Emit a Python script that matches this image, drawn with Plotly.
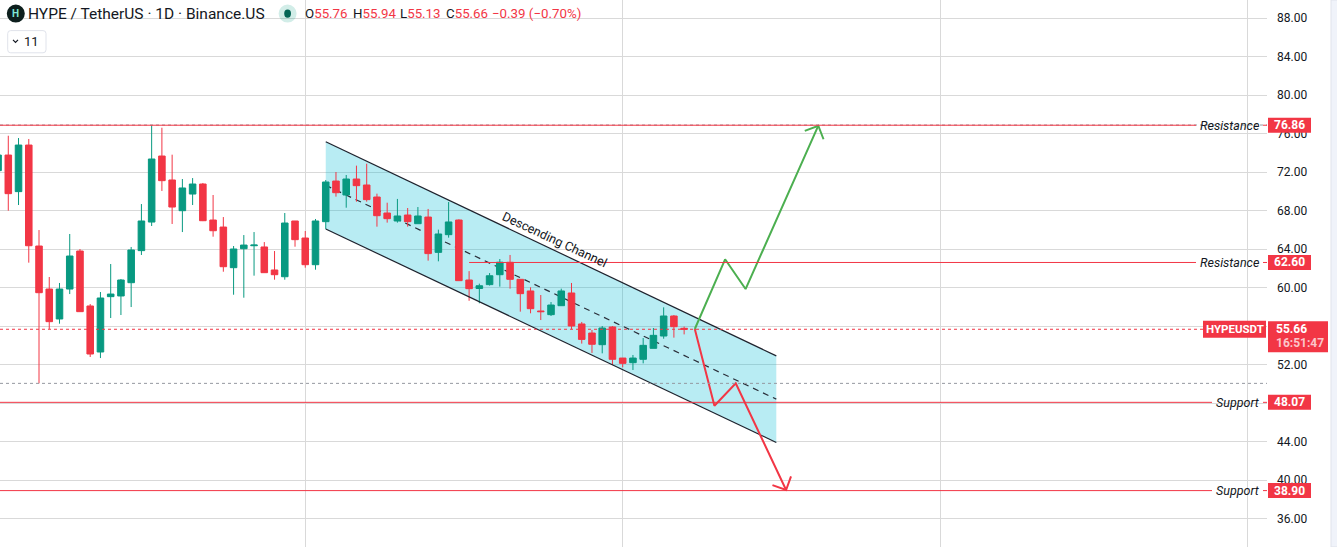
import math
import pandas as pd
import plotly.graph_objects as go

# ---------------- data ----------------
first_date = "2025-06-01"
opens = [72.14, 73.76, 69.96, 74.80, 64.31, 59.84, 56.73, 59.84, 63.79, 58.08,
         53.30, 59.05, 59.12, 60.50, 63.83, 66.80, 73.66, 71.17, 67.98, 69.71,
         70.75, 67.01, 66.28, 62.06, 64.03, 64.34, 64.21, 61.82, 61.12, 66.91,
         65.14, 62.37, 66.84, 71.06, 69.61, 71.27, 70.65, 69.40, 67.74, 66.91,
         67.53, 66.63, 67.32, 63.65, 65.49, 67.01, 60.78, 59.90, 60.30, 61.33,
         62.62, 60.85, 59.64, 57.56, 57.18, 58.11, 59.43, 56.21, 55.27, 54.06,
         55.90, 52.67, 52.19, 52.54, 53.68, 54.96, 57.04, 55.76]
highs = [74.30, 75.77, 75.53, 75.43, 65.97, 61.09, 60.47, 65.56, 64.00, 58.28,
         59.53, 62.44, 60.88, 64.21, 68.67, 76.88, 76.60, 73.80, 71.27, 71.37,
         70.86, 69.61, 67.32, 64.31, 65.45, 65.76, 64.72, 63.79, 67.74, 66.91,
         65.87, 67.12, 71.17, 72.00, 71.69, 72.66, 72.86, 69.75, 68.81, 69.20,
         68.26, 68.36, 68.16, 66.01, 68.88, 67.08, 61.70, 60.40, 61.50, 62.96,
         63.38, 60.86, 60.02, 59.22, 58.49, 59.88, 60.47, 56.42, 55.59, 56.00,
         56.00, 52.68, 52.99, 54.75, 55.79, 57.94, 57.14, 55.94]
lows = [71.60, 67.98, 68.57, 62.58, 50.04, 55.69, 56.24, 59.32, 57.49, 52.78,
        52.67, 56.83, 57.14, 57.97, 63.38, 66.39, 70.03, 66.60, 65.76, 68.57,
        66.90, 65.28, 61.64, 59.25, 58.94, 61.23, 61.54, 60.81, 60.81, 64.24,
        62.06, 61.85, 66.08, 69.44, 68.29, 68.92, 68.92, 66.32, 66.74, 66.74,
        66.32, 66.63, 62.79, 62.72, 65.18, 60.71, 58.62, 58.36, 60.20, 60.09,
        59.88, 57.49, 57.32, 56.62, 57.04, 58.11, 55.69, 54.17, 53.20, 53.16,
        51.95, 51.71, 51.43, 52.12, 53.68, 54.68, 54.79, 55.13]
closes = [73.76, 69.75, 74.80, 64.34, 59.46, 56.45, 59.84, 63.27, 57.49, 53.09,
          58.91, 59.32, 60.78, 63.90, 66.91, 73.35, 71.10, 68.36, 70.34, 70.75,
          66.94, 65.90, 62.16, 64.00, 64.41, 64.41, 61.54, 61.33, 66.70, 64.97,
          62.37, 66.91, 70.96, 69.85, 71.27, 70.58, 69.13, 67.46, 67.15, 67.43,
          66.84, 67.43, 63.52, 65.56, 66.81, 60.71, 59.88, 60.18, 61.22, 62.63,
          60.85, 59.36, 57.80, 57.49, 58.18, 59.64, 56.00, 54.61, 54.10, 55.79,
          52.54, 52.12, 52.67, 53.99, 55.03, 57.04, 55.93, 55.66]

# key horizontal levels
level_prices = [76.86, 62.60, 48.07, 38.90]
level_names = ["Resistance", "Resistance", "Support", "Support"]
level_starts = [None, "2025-07-17", None, None]

# descending channel drawing
channel_x = ["2025-07-03", "2025-08-16"]
channel_upper = [75.15, 52.90]
channel_lower = [66.08, 43.90]
channel_label = "Descending Channel"
channel_label_pos = ("2025-07-25 09:00", 65.00)

# projected scenario paths
bull_x = ["2025-08-08 01:00", "2025-08-11 00:00", "2025-08-13 00:00", "2025-08-20 02:30"]
bull_y = [55.69, 62.93, 59.84, 76.81]
bear_x = ["2025-08-08 01:00", "2025-08-09 23:00", "2025-08-12 01:00", "2025-08-16 23:00"]
bear_y = [55.69, 47.72, 50.05, 38.96]

# axis ticks (48.00 and 56.00 are fully covered by the price labels in the reference)
y_ticks = [36, 40, 44, 48, 52, 56, 60, 64, 68, 72, 76, 80, 84, 88]
y_tick_labels = ["36.00", "40.00", "44.00", "", "52.00", "", "60.00",
                 "64.00", "68.00", "72.00", "76.00", "80.00", "84.00", "88.00"]
month_ticks = ["2025-07-01", "2025-08-01", "2025-09-01", "2025-10-01"]

# header
title_text = "HYPE / TetherUS · 1D · Binance.US"
ohlc_labels = ["O", "H", "L", "C"]
ohlc_values = ["55.76", "55.94", "55.13", "55.66"]
change_text = "−0.39 (−0.70%)"
symbol = "HYPEUSDT"
last_price = 55.66
countdown = "16:51:47"
indicator_count = "11"

# ---------------- style / layout constants ----------------
W, H = 1337, 547
PLOT_W = 1267
Y_MIN, Y_MAX = 33.04, 89.87
X_LEFT_DAYS, X_RIGHT_DAYS = 0.19, 123.92
UP = "#089981"
DOWN = "#F23645"
GRID = "#d9d9d9"
TEXT = "#131722"
FONT = "Roboto, Liberation Sans, sans-serif"

dates = pd.date_range(first_date, periods=len(opens), freq="D")
x_start = dates[0] + pd.Timedelta(days=X_LEFT_DAYS)
x_end = dates[0] + pd.Timedelta(days=X_RIGHT_DAYS)
px_per_day = PLOT_W / (X_RIGHT_DAYS - X_LEFT_DAYS)
px_per_unit = H / (Y_MAX - Y_MIN)


def px(xpix):
    return xpix / PLOT_W


def py(ypix):
    return 1 - ypix / H


def pix_to_date(xpix):
    return x_start + pd.Timedelta(days=xpix / px_per_day)


def arrow_wings(xs, ys, length=14.5, angle=45):
    tip_t, prev_t = pd.Timestamp(xs[-1]), pd.Timestamp(xs[-2])
    dx = (prev_t - tip_t) / pd.Timedelta(days=1) * px_per_day
    dy = -(ys[-2] - ys[-1]) * px_per_unit
    n = math.hypot(dx, dy)
    ux, uy = dx / n, dy / n
    wx_list, wy_list = [], []
    for sgn in (1, -1):
        a = math.radians(angle * sgn)
        wx = ux * math.cos(a) - uy * math.sin(a)
        wy = ux * math.sin(a) + uy * math.cos(a)
        wx_list.append(tip_t + pd.Timedelta(days=wx * length / px_per_day))
        wy_list.append(ys[-1] - wy * length / px_per_unit)
    return [wx_list[0], tip_t, wx_list[1]], [wy_list[0], ys[-1], wy_list[1]]


fig = go.Figure()
shapes = []
annotations = []

# channel fill + mid line (between gridlines and candles)
shapes.append(dict(
    type="path", xref="x", yref="y", layer="between",
    path=(f"M {channel_x[0]},{channel_upper[0]} L {channel_x[1]},{channel_upper[1]} "
          f"L {channel_x[1]},{channel_lower[1]} L {channel_x[0]},{channel_lower[0]} Z"),
    fillcolor="rgba(0,188,212,0.28)", line=dict(width=0)))
mid = [(u + l) / 2 for u, l in zip(channel_upper, channel_lower)]
shapes.append(dict(type="line", xref="x", yref="y", layer="between",
                   x0=channel_x[0], y0=mid[0], x1=channel_x[1], y1=mid[1],
                   line=dict(color="#2a2e39", width=1.2, dash="6px,5px")))

# candles
fig.add_trace(go.Candlestick(
    x=dates, open=opens, high=highs, low=lows, close=closes,
    increasing=dict(line=dict(color=UP, width=1), fillcolor=UP),
    decreasing=dict(line=dict(color=DOWN, width=1), fillcolor=DOWN),
    whiskerwidth=0, hoverinfo="skip"))

# channel borders
for ys in (channel_upper, channel_lower):
    fig.add_trace(go.Scatter(x=channel_x, y=ys, mode="lines",
                             line=dict(color="#1e222d", width=1.2), hoverinfo="skip"))

# scenario paths
for xs, ys, col in ((bull_x, bull_y, "#4caf50"), (bear_x, bear_y, DOWN)):
    fig.add_trace(go.Scatter(x=xs, y=ys, mode="lines", line=dict(color=col, width=2),
                             hoverinfo="skip"))
    wx, wy = arrow_wings(xs, ys)
    fig.add_trace(go.Scatter(x=wx, y=wy, mode="lines", line=dict(color=col, width=2),
                             hoverinfo="skip"))

# high / low of visible range markers
for v in (min(lows), max(highs)):
    shapes.append(dict(type="line", xref="paper", yref="y", x0=0, x1=1, y0=v, y1=v,
                       line=dict(color="#9598a1", width=1, dash="dot")))

# levels
for price, name, start in zip(level_prices, level_names, level_starts):
    text_left = 1199 if name == "Resistance" else 1215
    line_end = text_left - 3
    if start is None:
        shapes.append(dict(type="line", xref="paper", yref="y", x0=0, x1=px(line_end),
                           y0=price, y1=price, line=dict(color=DOWN, width=1)))
    else:
        shapes.append(dict(type="line", xref="x", yref="y", x0=start, x1=pix_to_date(line_end),
                           y0=price, y1=price, line=dict(color=DOWN, width=1)))
    shapes.append(dict(type="line", xref="paper", yref="y", x0=px(1263), x1=1,
                       y0=price, y1=price, line=dict(color=DOWN, width=1)))
    annotations.append(dict(xref="paper", yref="y", x=px(1262), y=price, xanchor="right",
                            yanchor="middle", text=f"<i>{name}</i>", showarrow=False,
                            font=dict(family=FONT, size=12.5, color=TEXT)))
    shapes.append(dict(type="rect", xref="paper", yref="y", x0=px(1268), x1=px(1311),
                       ysizemode="pixel", yanchor=price, y0=-7.5, y1=7.5,
                       fillcolor=DOWN, line=dict(width=0)))
    annotations.append(dict(xref="paper", yref="y", x=px(1289.5), y=price, xanchor="center",
                            yanchor="middle", text=f"<b>{price:.2f}</b>", showarrow=False,
                            font=dict(family=FONT, size=12, color="white")))

# last price line and labels
shapes.append(dict(type="line", xref="paper", yref="y", x0=0, x1=px(1203), y0=last_price,
                   y1=last_price, line=dict(color=DOWN, width=1, dash="dot")))
shapes.append(dict(type="rect", xref="paper", yref="y", x0=px(1203), x1=px(1266),
                   ysizemode="pixel", yanchor=last_price, y0=-8.5, y1=8.5,
                   fillcolor=DOWN, line=dict(width=0)))
shapes.append(dict(type="rect", xref="paper", yref="y", x0=px(1268), x1=px(1328),
                   ysizemode="pixel", yanchor=last_price, y0=-23, y1=8,
                   fillcolor=DOWN, line=dict(width=0)))
annotations.append(dict(xref="paper", yref="y", x=px(1234.5), y=last_price, xanchor="center",
                        yanchor="middle", text=f"<b>{symbol}</b>", showarrow=False,
                        font=dict(family=FONT, size=11.5, color="white")))
annotations.append(dict(xref="paper", yref="y", x=px(1274), y=last_price, xanchor="left",
                        yanchor="middle", text=f"<b>{last_price:.2f}</b>", showarrow=False,
                        font=dict(family=FONT, size=12, color="white")))
annotations.append(dict(xref="paper", yref="y", x=px(1274), y=last_price, xanchor="left",
                        yanchor="middle", yshift=-13.5, text=f"<b>{countdown}</b>", showarrow=False,
                        font=dict(family=FONT, size=12, color="rgba(255,255,255,0.72)")))

# channel label
annotations.append(dict(xref="x", yref="y", x=channel_label_pos[0], y=channel_label_pos[1],
                        text=channel_label, textangle=25, showarrow=False,
                        font=dict(family=FONT, size=12.5, color=TEXT)))

# right edge strip
shapes.append(dict(type="rect", xref="paper", yref="paper", x0=px(1331), x1=px(1340), y0=0, y1=1,
                   fillcolor="#f0f3fa", line=dict(color="#e0e3eb", width=1)))

# header: symbol icon
shapes.append(dict(type="circle", xref="paper", yref="paper", x0=px(6.8), x1=px(24.8),
                   y0=py(22.6), y1=py(4.6), fillcolor="#0d1f1d", line=dict(width=0)))
annotations.append(dict(xref="paper", yref="paper", x=px(15.8), y=py(13.8), xanchor="center",
                        yanchor="middle", text="<b>H</b>", showarrow=False,
                        font=dict(family=FONT, size=10, color="#7fe8d6")))
annotations.append(dict(xref="paper", yref="paper", x=px(25.5), y=py(13.6), xanchor="left",
                        yanchor="middle", text=title_text, showarrow=False,
                        font=dict(family=FONT, size=15.5, color=TEXT)))
# market status dot
shapes.append(dict(type="circle", xref="paper", yref="paper", x0=px(278.6), x1=px(296.6),
                   y0=py(22.6), y1=py(4.6), fillcolor="rgba(8,153,129,0.18)", line=dict(width=0)))
shapes.append(dict(type="circle", xref="paper", yref="paper", x0=px(284.2), x1=px(291.0),
                   y0=py(17.8), y1=py(9.4), fillcolor="#056656", line=dict(width=0)))
# OHLC
ohlc_x = [302.5, 351.0, 398.0, 444.0]
for lab, val, xp in zip(ohlc_labels, ohlc_values, ohlc_x):
    annotations.append(dict(xref="paper", yref="paper", x=px(xp), y=py(13.6), xanchor="left",
                            yanchor="middle", showarrow=False,
                            text=f"{lab}<span style='color:{DOWN}'>{val}</span>",
                            font=dict(family=FONT, size=13.3, color=TEXT)))
annotations.append(dict(xref="paper", yref="paper", x=px(490.0), y=py(13.6), xanchor="left",
                        yanchor="middle", showarrow=False, text=change_text,
                        font=dict(family=FONT, size=13.3, color=DOWN)))


# indicators toggle box
def rounded_rect(x0, y0, x1, y1, r):
    p = lambda a, b: f"{px(a)},{py(b)}"
    return (f"M {p(x0 + r, y0)} L {p(x1 - r, y0)} Q {p(x1, y0)} {p(x1, y0 + r)} "
            f"L {p(x1, y1 - r)} Q {p(x1, y1)} {p(x1 - r, y1)} L {p(x0 + r, y1)} "
            f"Q {p(x0, y1)} {p(x0, y1 - r)} L {p(x0, y0 + r)} Q {p(x0, y0)} {p(x0 + r, y0)} Z")


shapes.append(dict(type="path", xref="paper", yref="paper",
                   path=rounded_rect(7.7, 30.6, 46, 52.8, 3),
                   fillcolor="white", line=dict(color="#e0e3eb", width=1)))
shapes.append(dict(type="path", xref="paper", yref="paper",
                   path=f"M {px(13)},{py(39.8)} L {px(15.5)},{py(42.3)} L {px(18)},{py(39.8)}",
                   line=dict(color=TEXT, width=1.2)))
annotations.append(dict(xref="paper", yref="paper", x=px(31.5), y=py(41.7), xanchor="center",
                        yanchor="middle", text=indicator_count, showarrow=False,
                        font=dict(family=FONT, size=13, color=TEXT)))

fig.update_layout(
    width=W, height=H, margin=dict(l=0, r=W - PLOT_W, t=0, b=0),
    paper_bgcolor="white", plot_bgcolor="white", showlegend=False,
    hovermode=False, boxgap=0.36, boxgroupgap=0,
    font=dict(family=FONT, size=12, color=TEXT),
    shapes=shapes, annotations=annotations,
)
fig.update_xaxes(type="date", range=[x_start, x_end], tickvals=month_ticks,
                 showticklabels=False, showgrid=True, gridcolor=GRID, gridwidth=1,
                 zeroline=False, showline=False, rangeslider_visible=False, fixedrange=True)
fig.update_yaxes(side="right", range=[Y_MIN, Y_MAX], tickvals=y_ticks, ticktext=y_tick_labels,
                 showgrid=True, gridcolor=GRID, gridwidth=1, zeroline=False, showline=False,
                 ticks="", ticklabelstandoff=9, tickfont=dict(family=FONT, size=12, color=TEXT),
                 fixedrange=True)

fig.write_html("out.html", config={"displayModeBar": False},
               post_script="document.body.style.margin='0';document.body.style.overflow='hidden';")
